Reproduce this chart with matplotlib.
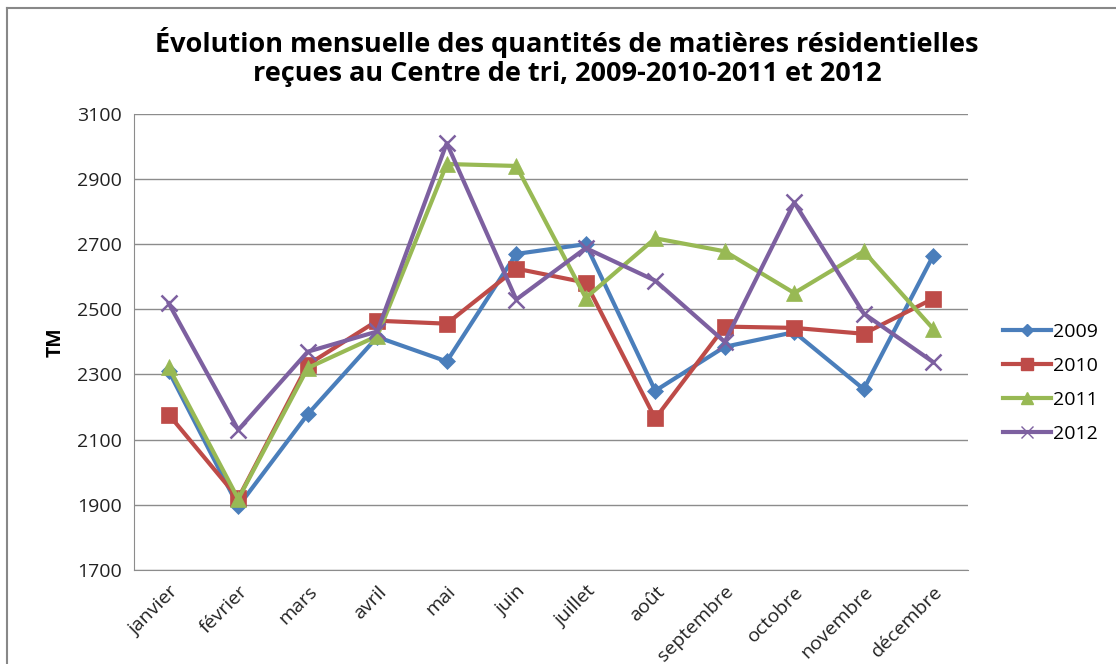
import matplotlib
matplotlib.use('Agg')
import matplotlib.pyplot as plt
from matplotlib.lines import Line2D

# data (TM per month)
mois = ['janvier', 'février', 'mars', 'avril', 'mai', 'juin', 'juillet',
        'août', 'septembre', 'octobre', 'novembre', 'décembre']
v2009 = [2310, 1895, 2178, 2415, 2340, 2670, 2700, 2250, 2385, 2430, 2255, 2665]
v2010 = [2177, 1920, 2330, 2465, 2456, 2625, 2582, 2165, 2447, 2443, 2425, 2533]
v2011 = [2322, 1918, 2320, 2418, 2946, 2940, 2535, 2718, 2678, 2550, 2678, 2440]
v2012 = [2518, 2130, 2370, 2432, 3010, 2530, 2688, 2588, 2400, 2828, 2487, 2338]
annees = ['2009', '2010', '2011', '2012']
yticks = [1700, 1900, 2100, 2300, 2500, 2700, 2900, 3100]

couleurs = ['#4A7EBB', '#BE4B48', '#98B954', '#7D60A0']
marqueurs = ['D', 's', '^', 'x']
tailles = [8, 11, 11, 11]

plt.rcParams['font.family'] = ['Open Sans', 'DejaVu Sans']

fig = plt.figure(figsize=(11.16, 6.64), dpi=100)
W, H = 1116, 664
ax = fig.add_axes([134 / W, 1 - 570 / H, (968 - 134) / W, (570 - 113.5) / H])

x = list(range(len(mois)))
for vals, c, m, s, lab in zip([v2009, v2010, v2011, v2012], couleurs, marqueurs, tailles, annees):
    ax.plot(x, vals, color=c, lw=3, marker=m, markersize=s, label=lab,
            markeredgewidth=1.8 if m == 'x' else 0.5, markeredgecolor=c)

ax.set_xlim(-0.5, len(mois) - 0.5)
ax.set_ylim(1700, 3101)
ax.set_yticks(yticks)
ax.set_yticklabels([str(t) for t in yticks], fontsize=14, color='#222222')
ax.set_xticks(x)
ax.set_xticklabels(mois, rotation=45, ha='right', rotation_mode='anchor', fontsize=14, color='#222222')
ax.tick_params(axis='both', length=0, pad=9)
ax.tick_params(axis='x', pad=9)
ax.grid(axis='y', color='#8c8c8c', lw=1)
ax.set_axisbelow(True)
for sp in ['top', 'right']:
    ax.spines[sp].set_visible(False)
ax.spines['left'].set_color('#8c8c8c')
ax.spines['bottom'].set_color('#8c8c8c')

ax.set_ylabel('TM', fontsize=14, fontweight='bold', labelpad=8)

fig.text(0.508, 1 - 43 / H, 'Évolution mensuelle des quantités de matières résidentielles',
         ha='center', va='center', fontsize=19.5, fontweight='bold')
fig.text(0.508, 1 - 74 / H, 'reçues au Centre de tri, 2009-2010-2011 et 2012',
         ha='center', va='center', fontsize=19.5, fontweight='bold')

handles = [Line2D([0], [0], color=c, lw=3, marker=m, markersize=s * 0.8, markeredgecolor=c)
           for c, m, s in zip(couleurs, marqueurs, tailles)]
fig.legend(handles, annees, loc='upper left', bbox_to_anchor=(995 / W, 1 - 315 / H),
           frameon=False, fontsize=14, handlelength=2.5, labelspacing=0.83,
           handletextpad=0.1, borderaxespad=0)

# outer frame (top and left edges visible)
fig.add_artist(Line2D([7 / W, 1], [1 - 8 / H, 1 - 8 / H], color='#888888', lw=1.5))
fig.add_artist(Line2D([7 / W, 7 / W], [0, 1 - 8 / H], color='#888888', lw=1.5))

fig.savefig('out.png', dpi=100)
